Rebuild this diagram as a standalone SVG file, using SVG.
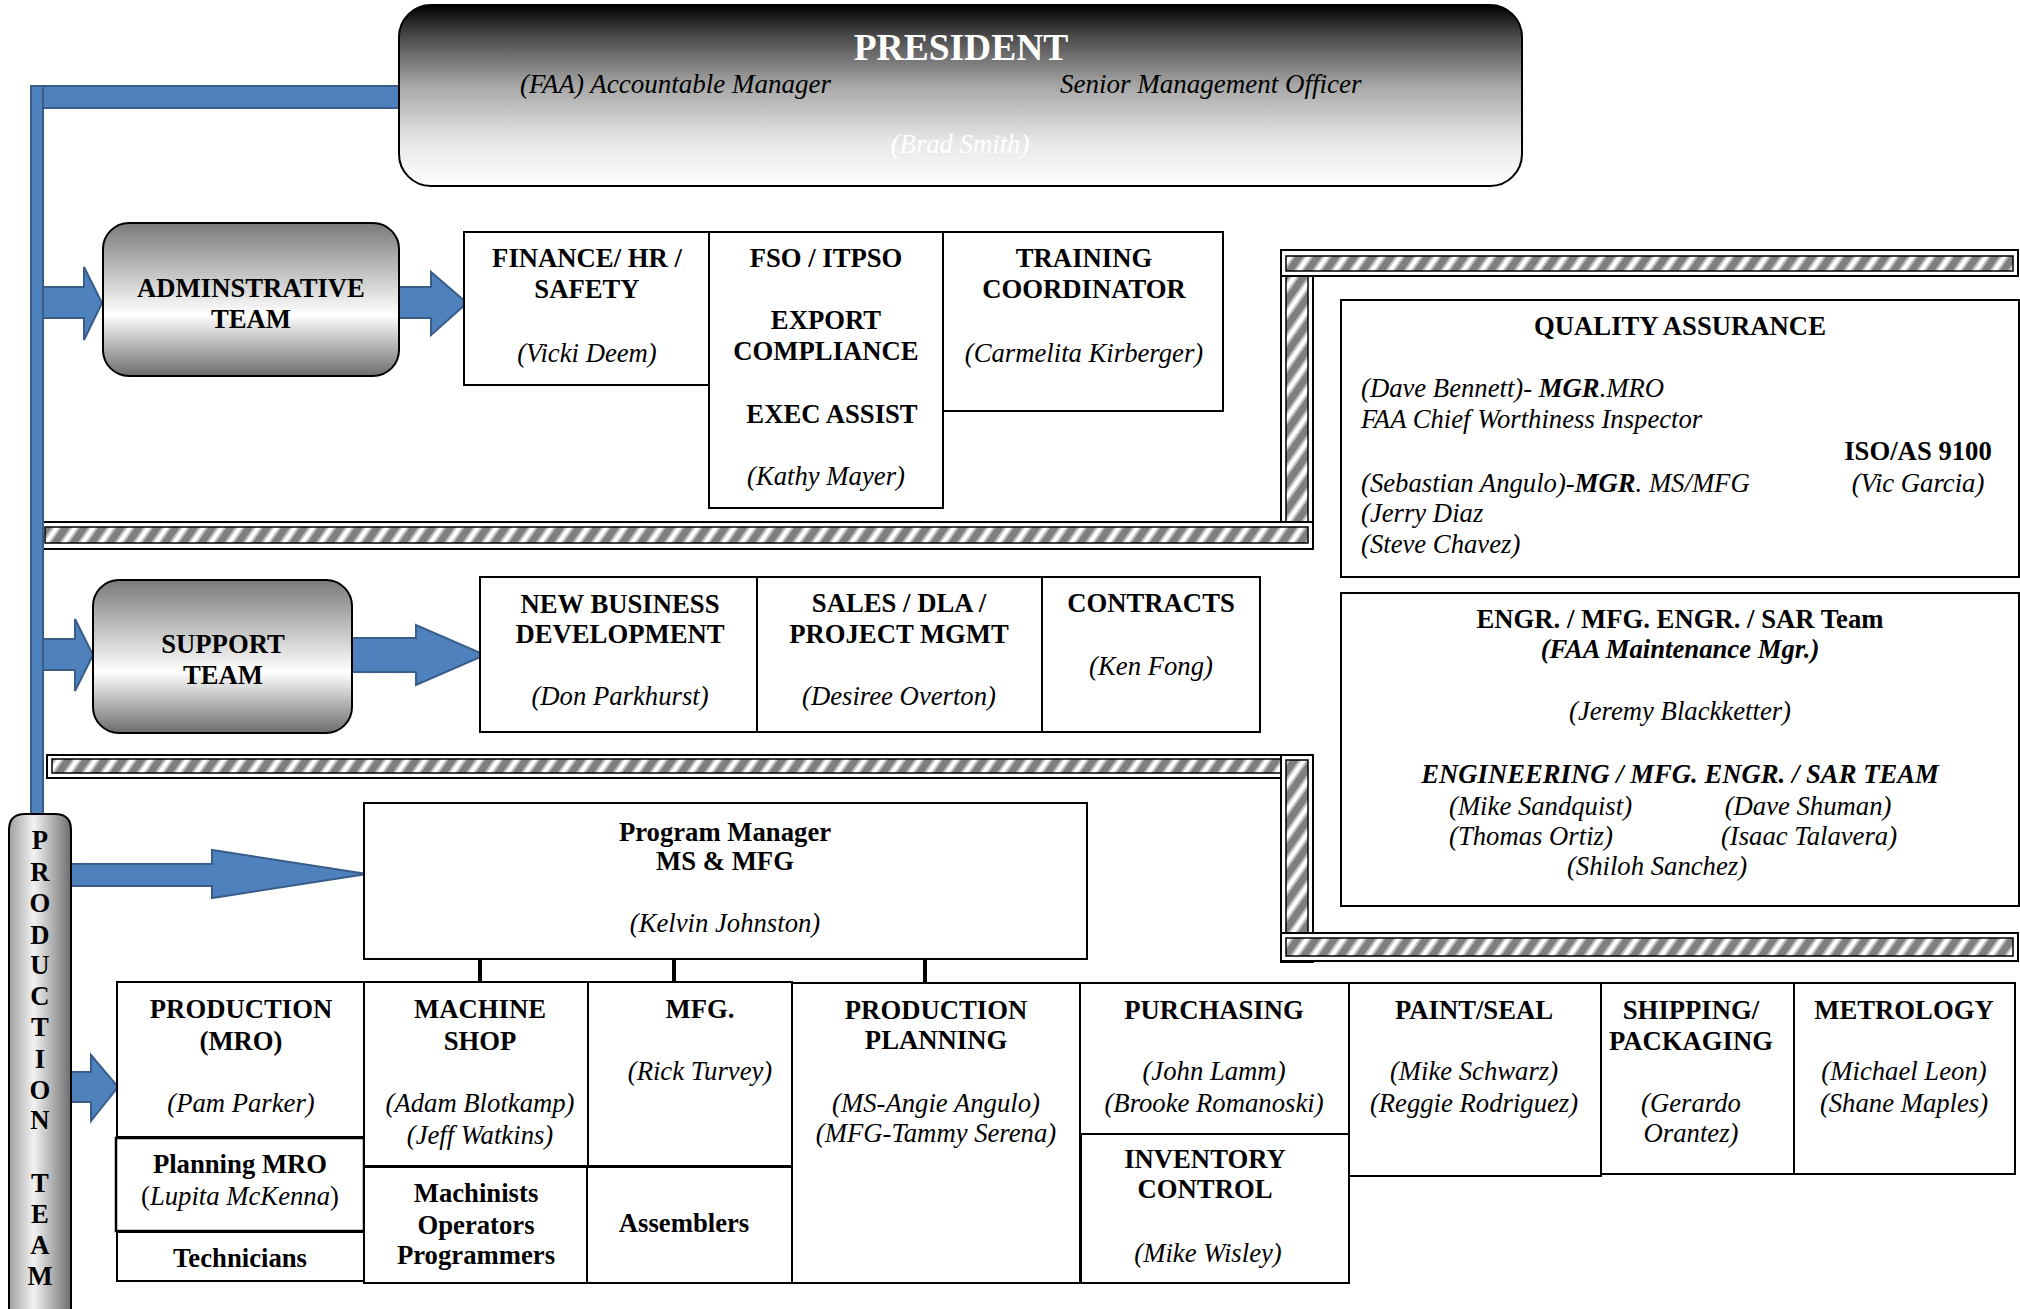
<svg xmlns="http://www.w3.org/2000/svg" width="2020" height="1309" viewBox="0 0 2020 1309">
<defs>
<linearGradient id="gPres" x1="0" y1="0" x2="0" y2="1">
<stop offset="0" stop-color="#000"/><stop offset="0.18" stop-color="#4d4d4d"/><stop offset="0.45" stop-color="#a8a8a8"/><stop offset="0.75" stop-color="#e6e6e6"/><stop offset="1" stop-color="#fff"/>
</linearGradient>
<linearGradient id="gTeam" x1="0" y1="0" x2="0" y2="1">
<stop offset="0" stop-color="#7a7a7a"/><stop offset="0.6" stop-color="#fff"/><stop offset="1" stop-color="#6d6d6d"/>
</linearGradient>
<linearGradient id="gProd" x1="0" y1="0" x2="1" y2="0">
<stop offset="0" stop-color="#a0a0a0"/><stop offset="0.4" stop-color="#f2f2f2"/><stop offset="1" stop-color="#6e6e6e"/>
</linearGradient>
<pattern id="hatch" patternUnits="userSpaceOnUse" width="15" height="15" patternTransform="rotate(35)">
<rect width="15" height="15" fill="#7f7f7f"/>
<rect x="0" width="2" height="15" fill="#c0c0c0"/>
<rect x="2" width="4" height="15" fill="#fff"/>
<rect x="6" width="2" height="15" fill="#c0c0c0"/>
</pattern>
<style>
text{font-family:"Liberation Serif","Times New Roman",serif;font-size:26.7px;fill:#000;text-anchor:middle}
.b{font-weight:bold}
.i{font-style:italic}
.l{text-anchor:start}
.box{fill:#fff;stroke:#000;stroke-width:2}
.team{fill:url(#gTeam);stroke:#000;stroke-width:2}
.blue{fill:#4f81bd;stroke:#385d8a;stroke-width:2}
.hout{fill:#fff;stroke:#000;stroke-width:2}
.hin{fill:url(#hatch);stroke:#000;stroke-width:1.5}
.conn{stroke:#000;stroke-width:4}
</style>
</defs>

<g id="hatched-frames">
<rect class="hout" x="1281" y="250" width="32" height="298"/>
<rect class="hin" x="1286" y="255" width="22" height="288"/>
<rect class="hout" x="1281" y="250" width="737" height="26"/>
<rect class="hin" x="1286" y="256" width="727" height="15"/>
<rect class="hout" x="40" y="522" width="1273" height="27"/>
<rect class="hin" x="45" y="527" width="1263" height="16"/>
<rect class="hout" x="47" y="755" width="1266" height="23"/>
<rect class="hin" x="52" y="759" width="1256" height="14"/>
<rect class="hout" x="1281" y="755" width="32" height="207"/>
<rect class="hin" x="1286" y="760" width="22" height="173"/>
<rect class="hout" x="1281" y="933" width="737" height="28"/>
<rect class="hin" x="1286" y="938" width="727" height="18"/>
</g>

<g id="connectors">
<rect class="blue" x="31" y="86" width="369" height="22"/>
<rect class="blue" x="31" y="86" width="12" height="728"/>
<polygon class="blue" points="43,287 84,287 84,267 102,303 84,340 84,318 43,318"/>
<polygon class="blue" points="399,287 431,287 431,272 467,303 431,335 431,318 399,318"/>
<polygon class="blue" points="43,639 75,639 75,619 93,655 75,691 75,670 43,670"/>
<polygon class="blue" points="352,638 416,638 416,625 485,655 416,685 416,672 352,672"/>
<polygon class="blue" points="71,864 212,864 212,850 367,874 212,898 212,886 71,886"/>
<polygon class="blue" points="70,1072 91,1072 91,1055 118,1087 91,1121 91,1102 70,1102"/>
<line class="conn" x1="480" y1="959" x2="480" y2="982"/>
<line class="conn" x1="674" y1="959" x2="674" y2="982"/>
<line class="conn" x1="925" y1="959" x2="925" y2="982"/>
</g>

<g id="president">
<rect x="399" y="5" width="1123" height="181" rx="32" fill="url(#gPres)" stroke="#000" stroke-width="2"/>
<text class="b" x="961" y="60" style="font-size:37.5px;fill:#fff">PRESIDENT</text>
<text class="i l" x="520" y="93" style="font-size:27px">(FAA) Accountable Manager</text>
<text class="i l" x="1060" y="93" style="font-size:27px">Senior Management Officer</text>
<text class="i" x="960" y="153" style="fill:#fff">(Brad Smith)</text>
</g>

<g id="admin-team">
<rect class="team" x="103" y="223" width="296" height="153" rx="26"/>
<text class="b" x="251" y="297">ADMINSTRATIVE</text>
<text class="b" x="251" y="328">TEAM</text>
</g>

<g id="finance">
<rect class="box" x="464" y="232" width="245" height="153"/>
<text class="b" x="587" y="267">FINANCE/ HR /</text>
<text class="b" x="587" y="298">SAFETY</text>
<text class="i" x="587" y="362">(Vicki Deem)</text>
</g>

<g id="fso">
<rect class="box" x="709" y="232" width="234" height="276"/>
<text class="b" x="826" y="267">FSO / ITPSO</text>
<text class="b" x="826" y="329">EXPORT</text>
<text class="b" x="826" y="360">COMPLIANCE</text>
<text class="b" x="832" y="423">EXEC ASSIST</text>
<text class="i" x="826" y="485">(Kathy Mayer)</text>
</g>

<g id="training">
<rect class="box" x="943" y="232" width="280" height="179"/>
<text class="b" x="1084" y="267">TRAINING</text>
<text class="b" x="1084" y="298">COORDINATOR</text>
<text class="i" x="1084" y="362">(Carmelita Kirberger)</text>
</g>

<g id="quality-assurance">
<rect class="box" x="1341" y="300" width="678" height="277"/>
<text class="b" x="1680" y="335">QUALITY ASSURANCE</text>
<text class="i l" x="1361" y="397">(Dave Bennett)- <tspan class="b">MGR</tspan>.MRO</text>
<text class="i l" x="1361" y="428">FAA Chief Worthiness Inspector</text>
<text class="b" x="1918" y="460">ISO/AS 9100</text>
<text class="i l" x="1361" y="492">(Sebastian Angulo)-<tspan class="b">MGR</tspan>. MS/MFG</text>
<text class="i" x="1918" y="492">(Vic Garcia)</text>
<text class="i l" x="1361" y="522">(Jerry Diaz</text>
<text class="i l" x="1361" y="553">(Steve Chavez)</text>
</g>

<g id="engineering">
<rect class="box" x="1341" y="593" width="678" height="313"/>
<text class="b" x="1680" y="628">ENGR. / MFG. ENGR. / SAR Team</text>
<text class="b i" x="1680" y="658">(FAA Maintenance Mgr.)</text>
<text class="i" x="1680" y="720">(Jeremy Blackketter)</text>
<text class="b i" x="1680" y="783">ENGINEERING / MFG. ENGR. / SAR TEAM</text>
<text class="i l" x="1449" y="815">(Mike Sandquist)</text>
<text class="i" x="1808" y="815">(Dave Shuman)</text>
<text class="i l" x="1449" y="845">(Thomas Ortiz)</text>
<text class="i" x="1809" y="845">(Isaac Talavera)</text>
<text class="i" x="1657" y="875">(Shiloh Sanchez)</text>
</g>

<g id="support-team">
<rect class="team" x="93" y="580" width="259" height="153" rx="26"/>
<text class="b" x="223" y="653">SUPPORT</text>
<text class="b" x="223" y="684">TEAM</text>
</g>

<g id="new-business">
<rect class="box" x="480" y="577" width="277" height="155"/>
<text class="b" x="620" y="613">NEW BUSINESS</text>
<text class="b" x="620" y="643">DEVELOPMENT</text>
<text class="i" x="620" y="705">(Don Parkhurst)</text>
</g>

<g id="sales">
<rect class="box" x="757" y="577" width="285" height="155"/>
<text class="b" x="899" y="612">SALES / DLA /</text>
<text class="b" x="899" y="643">PROJECT MGMT</text>
<text class="i" x="899" y="705">(Desiree Overton)</text>
</g>

<g id="contracts">
<rect class="box" x="1042" y="577" width="218" height="155"/>
<text class="b" x="1151" y="612">CONTRACTS</text>
<text class="i" x="1151" y="675">(Ken Fong)</text>
</g>

<g id="production-team">
<path d="M9,1309 V830 Q9,814 25,814 H55 Q71,814 71,830 V1309" fill="url(#gProd)" stroke="#000" stroke-width="2"/>
<text class="b" x="40" y="849">P</text>
<text class="b" x="40" y="881">R</text>
<text class="b" x="40" y="912">O</text>
<text class="b" x="40" y="944">D</text>
<text class="b" x="40" y="974">U</text>
<text class="b" x="40" y="1005">C</text>
<text class="b" x="40" y="1036">T</text>
<text class="b" x="40" y="1068">I</text>
<text class="b" x="40" y="1099">O</text>
<text class="b" x="40" y="1129">N</text>
<text class="b" x="40" y="1192">T</text>
<text class="b" x="40" y="1223">E</text>
<text class="b" x="40" y="1254">A</text>
<text class="b" x="40" y="1285">M</text>
</g>

<g id="program-manager">
<rect class="box" x="364" y="803" width="723" height="156"/>
<text class="b" x="725" y="841">Program Manager</text>
<text class="b" x="725" y="870">MS &amp; MFG</text>
<text class="i" x="725" y="932">(Kelvin Johnston)</text>
</g>

<g id="production-mro">
<rect class="box" x="117" y="982" width="247" height="155"/>
<text class="b" x="241" y="1018">PRODUCTION</text>
<text class="b" x="241" y="1050">(MRO)</text>
<text class="i" x="241" y="1112">(Pam Parker)</text>
</g>

<g id="planning-mro">
<rect class="box" x="116" y="1138" width="248" height="93" style="stroke-width:2.5"/>
<text class="b" x="240" y="1173">Planning MRO</text>
<text x="240" y="1205">(<tspan class="i">Lupita McKenna</tspan>)</text>
</g>

<g id="technicians">
<rect class="box" x="117" y="1232" width="247" height="49"/>
<text class="b" x="240" y="1267">Technicians</text>
</g>

<g id="machine-shop">
<rect class="box" x="364" y="982" width="224" height="184"/>
<text class="b" x="480" y="1018">MACHINE</text>
<text class="b" x="480" y="1050">SHOP</text>
<text class="i" x="480" y="1112">(Adam Blotkamp)</text>
<text class="i" x="480" y="1144">(Jeff Watkins)</text>
</g>

<g id="machinists">
<rect class="box" x="364" y="1167" width="223" height="116"/>
<text class="b" x="476" y="1202">Machinists</text>
<text class="b" x="476" y="1234">Operators</text>
<text class="b" x="476" y="1264">Programmers</text>
</g>

<g id="mfg">
<rect class="box" x="588" y="982" width="204" height="184"/>
<text class="b" x="700" y="1018">MFG.</text>
<text class="i" x="700" y="1080">(Rick Turvey)</text>
</g>

<g id="assemblers">
<rect class="box" x="587" y="1167" width="205" height="116"/>
<text class="b" x="684" y="1232">Assemblers</text>
</g>

<g id="production-planning">
<rect class="box" x="792" y="983" width="288" height="300"/>
<text class="b" x="936" y="1019">PRODUCTION</text>
<text class="b" x="936" y="1049">PLANNING</text>
<text class="i" x="936" y="1112">(MS-Angie Angulo)</text>
<text class="i" x="936" y="1142">(MFG-Tammy Serena)</text>
</g>

<g id="purchasing">
<rect class="box" x="1080" y="983" width="269" height="151"/>
<text class="b" x="1214" y="1019">PURCHASING</text>
<text class="i" x="1214" y="1080">(John Lamm)</text>
<text class="i" x="1214" y="1112">(Brooke Romanoski)</text>
</g>

<g id="inventory">
<rect class="box" x="1081" y="1134" width="268" height="149"/>
<text class="b" x="1205" y="1168">INVENTORY</text>
<text class="b" x="1205" y="1198">CONTROL</text>
<text class="i" x="1208" y="1262">(Mike Wisley)</text>
</g>

<g id="paint-seal">
<rect class="box" x="1349" y="983" width="252" height="193"/>
<text class="b" x="1474" y="1019">PAINT/SEAL</text>
<text class="i" x="1474" y="1080">(Mike Schwarz)</text>
<text class="i" x="1474" y="1112">(Reggie Rodriguez)</text>
</g>

<g id="shipping">
<rect class="box" x="1601" y="983" width="193" height="191"/>
<text class="b" x="1691" y="1019">SHIPPING/</text>
<text class="b" x="1691" y="1050">PACKAGING</text>
<text class="i" x="1691" y="1112">(Gerardo</text>
<text class="i" x="1691" y="1142">Orantez)</text>
</g>

<g id="metrology">
<rect class="box" x="1794" y="983" width="221" height="191"/>
<text class="b" x="1904" y="1019">METROLOGY</text>
<text class="i" x="1904" y="1080">(Michael Leon)</text>
<text class="i" x="1904" y="1112">(Shane Maples)</text>
</g>
</svg>
